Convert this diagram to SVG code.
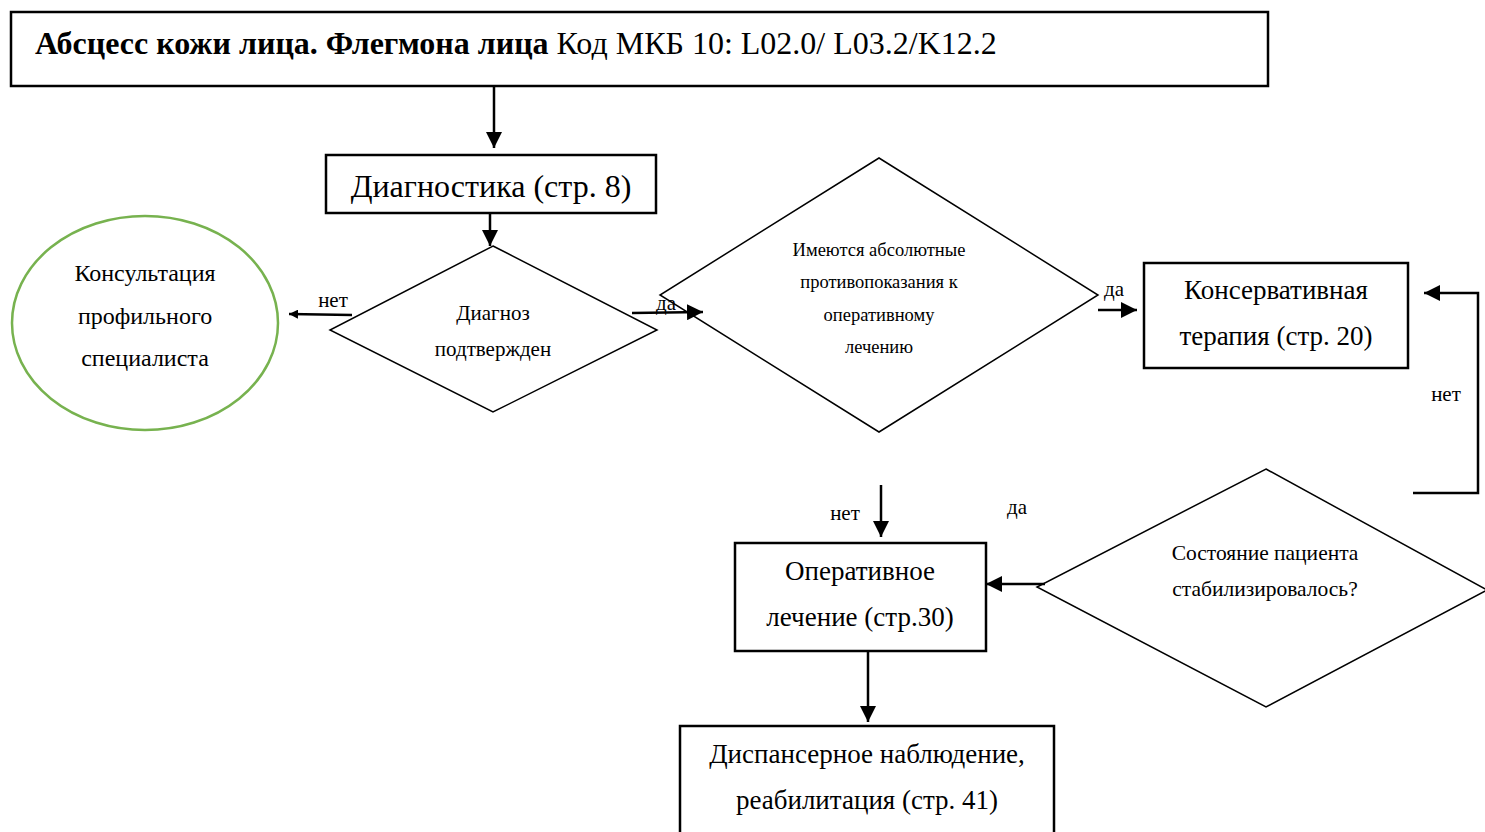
<svg xmlns="http://www.w3.org/2000/svg" width="1485" height="832" viewBox="0 0 1485 832">
<defs>
<style>
.box{fill:#fff;stroke:#000;stroke-width:2.5}
.dia{fill:#fff;stroke:#000;stroke-width:1.5}
.t{font-family:"Liberation Serif","Times New Roman",serif;fill:#000;text-anchor:middle}
.ln{fill:none;stroke:#000;stroke-width:2.5}
</style>
<marker id="ah" viewBox="0 0 10 10" refX="10" refY="5" markerWidth="9" markerHeight="9" markerUnits="userSpaceOnUse" orient="auto">
<path d="M0,0 L10,5 L0,10 z" fill="#000"/>
</marker>
<marker id="ahb" viewBox="0 0 10 10" refX="10" refY="5" markerWidth="16" markerHeight="16" markerUnits="userSpaceOnUse" orient="auto">
<path d="M0,0 L10,5 L0,10 z" fill="#000"/>
</marker>
</defs>
<rect width="1485" height="832" fill="#fff"/>

<g id="title">
<rect class="box" x="11" y="12" width="1257" height="74"/>
<text x="35" y="54" font-family="Liberation Serif,serif" font-size="32"><tspan font-weight="bold">Абсцесс кожи лица. Флегмона лица</tspan> Код МКБ 10: L02.0/ L03.2/K12.2</text>
</g>

<g id="diagnostika">
<rect class="box" x="326" y="155" width="330" height="58"/>
<text class="t" x="491" y="197" font-size="32">Диагностика (стр. 8)</text>
</g>

<g id="diagnoz">
<polygon class="dia" points="493,246 657,330 493,412 330,330"/>
<text class="t" x="493" y="320" font-size="21">Диагноз</text>
<text class="t" x="493" y="356" font-size="21">подтвержден</text>
</g>

<g id="konsultaciya">
<ellipse cx="145" cy="323" rx="133" ry="107" fill="#fff" stroke="#77b24f" stroke-width="2.5"/>
<text class="t" x="145" y="281" font-size="24">Консультация</text>
<text class="t" x="145" y="324" font-size="24">профильного</text>
<text class="t" x="145" y="366" font-size="24">специалиста</text>
</g>

<g id="protivopokazaniya">
<polygon class="dia" points="879,158 1098,295 879,432 660,295"/>
<text class="t" x="879" y="256" font-size="18.5">Имеются абсолютные</text>
<text class="t" x="879" y="288" font-size="18.5">противопоказания к</text>
<text class="t" x="879" y="321" font-size="18.5">оперативному</text>
<text class="t" x="879" y="353" font-size="18.5">лечению</text>
</g>

<g id="konservativnaya">
<rect class="box" x="1144" y="263" width="264" height="105"/>
<text class="t" x="1276" y="299" font-size="27">Консервативная</text>
<text class="t" x="1276" y="345" font-size="27">терапия (стр. 20)</text>
</g>

<g id="stabilizirovalos">
<polygon class="dia" points="1266,469 1487,590 1266,707 1037,587"/>
<text class="t" x="1265" y="560" font-size="21.5">Состояние пациента</text>
<text class="t" x="1265" y="596" font-size="21.5">стабилизировалось?</text>
</g>

<g id="operativnoe">
<rect class="box" x="735" y="543" width="251" height="108"/>
<text class="t" x="860" y="580" font-size="27">Оперативное</text>
<text class="t" x="860" y="626" font-size="27">лечение (стр.30)</text>
</g>

<g id="dispanser">
<rect class="box" x="680" y="726" width="374" height="120"/>
<text class="t" x="867" y="763" font-size="27">Диспансерное наблюдение,</text>
<text class="t" x="867" y="809" font-size="27">реабилитация (стр. 41)</text>
</g>

<g id="connectors">
<line class="ln" x1="494" y1="86" x2="494" y2="148" marker-end="url(#ahb)"/>
<line class="ln" x1="490" y1="213" x2="490" y2="246" marker-end="url(#ahb)"/>
<line class="ln" x1="352" y1="315" x2="289" y2="314" marker-end="url(#ah)"/>
<line class="ln" x1="632" y1="313" x2="703" y2="312" marker-end="url(#ahb)"/>
<line class="ln" x1="1098" y1="310" x2="1137" y2="310" marker-end="url(#ahb)"/>
<polyline class="ln" points="1413,493 1478,493 1478,293 1424,293" marker-end="url(#ahb)"/>
<line class="ln" x1="881" y1="485" x2="881" y2="537" marker-end="url(#ahb)"/>
<line class="ln" x1="1045" y1="584" x2="986" y2="584" marker-end="url(#ahb)"/>
<line class="ln" x1="868" y1="651" x2="868" y2="722" marker-end="url(#ahb)"/>
<text class="t" x="333" y="307" font-size="21">нет</text>
<text class="t" x="666" y="310" font-size="21">да</text>
<text class="t" x="1114" y="296" font-size="21">да</text>
<text class="t" x="1446" y="401" font-size="21">нет</text>
<text class="t" x="845" y="520" font-size="21">нет</text>
<text class="t" x="1017" y="514" font-size="21">да</text>
</g>
</svg>
